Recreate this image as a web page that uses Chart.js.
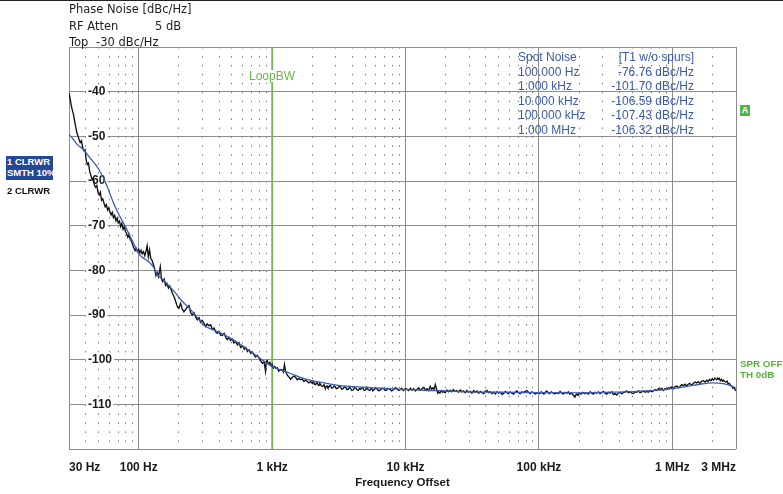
<!DOCTYPE html>
<html>
<head>
<meta charset="utf-8">
<script src="https://cdn.jsdelivr.net/npm/chart.js@4.4.1/dist/chart.umd.min.js"></script>
<style>
  body { margin: 0; background: #fff; }
  #wrap { position: relative; width: 783px; height: 494px; overflow: hidden; }
  #pn { position: absolute; left: 0; top: 0; }
  .t { position: absolute; white-space: nowrap; line-height: 14px; }
  .hdr { font: 11.5px "DejaVu Sans", sans-serif; color: #1e1e1e; }
  .spot { font: 12px "Liberation Sans", Arial, sans-serif; color: #3a5aae; }
  .side { font: bold 9.5px "Liberation Sans", Arial, sans-serif; line-height: 11px; }
  .green { color: #55b535; }
</style>
</head>
<body>
<div id="wrap">
  <canvas id="pn" width="783" height="494"></canvas>
  <div class="t" style="left:0;top:0;width:783px;height:1px;background:#222"></div>

  <div class="t hdr" style="left:69px;top:2px">Phase Noise [dBc/Hz]</div>
  <div class="t hdr" style="left:69px;top:19px">RF Atten</div>
  <div class="t hdr" style="left:155px;top:19px">5 dB</div>
  <div class="t hdr" style="left:69px;top:35px">Top</div>
  <div class="t hdr" style="left:96px;top:35px">-30 dBc/Hz</div>

  <div class="t side" style="left:6px;top:156px;width:47px;height:24px;background:#25479a;color:#fff;overflow:hidden;padding-left:1px;box-sizing:border-box">1 CLRWR<br>SMTH 10%</div>
  <div class="t side" style="left:7px;top:185px;color:#111">2 CLRWR</div>

  <div class="t" style="left:740px;top:105px;width:10px;height:11px;background:#4db848;color:#fff;font:bold 9px 'Liberation Sans',Arial,sans-serif;line-height:11px;text-align:center">A</div>
  <div class="t side green" style="left:740px;top:358px;font-size:9.8px">SPR OFF<br>TH 0dB</div>

  <div class="t" style="left:248px;top:70px;background:#fff;color:#62b946;font:12px 'Liberation Sans',Arial,sans-serif;line-height:12px;padding:0 1px">LoopBW</div>

  <div id="spot"></div>
</div>

<script>
// tick positions and labels of the frequency axis
const tickFreqs = [30, 100, 1e3, 1e4, 1e5, 1e6, 3e6];
const tickLabels = ['30 Hz', '100 Hz', '1 kHz', '10 kHz', '100 kHz', '1 MHz', '3 MHz'];
const minorFreqs = [40, 50, 60, 70, 80, 90, 200, 300, 400, 500, 600, 700, 800, 900,
  2e3, 3e3, 4e3, 5e3, 6e3, 7e3, 8e3, 9e3, 2e4, 3e4, 4e4, 5e4, 6e4, 7e4, 8e4, 9e4,
  2e5, 3e5, 4e5, 5e5, 6e5, 7e5, 8e5, 9e5, 2e6];

// spot noise table
const spotOffsets = ['100.000 Hz', '1.000 kHz', '10.000 kHz', '100.000 kHz', '1.000 MHz'];
const spotLevels = [-76.76, -101.70, -106.59, -107.43, -106.32];

// loop bandwidth marker
const loopBwFreq = 1000;

// trace 1 (raw, black): [offset Hz, dBc/Hz]
const trace1 = [
  [30, -40.3], [30.6, -41.6], [31.2, -43.1], [31.8, -44.2], [32.4, -45.1], [33, -46.5], [33.6, -47.7], [34.3, -49.1],
  [35, -49.9], [35.7, -50.7], [36.4, -51.4], [37.2, -51.0], [38, -52.5], [38.8, -53.2], [39.6, -53.0],
  [40.4, -55.4], [41.2, -56.3], [42, -56.0], [42.9, -57.9], [43.8, -58.8], [44.7, -59.7], [45.6, -59.4], [46.5, -60.9],
  [47.5, -61.4], [48.5, -61.0], [49.5, -62.6], [50.5, -63.1], [51.5, -62.5], [52.6, -64.3], [53.7, -64.0], [54.8, -64.9],
  [56, -65.8], [57.2, -65.3], [58.4, -66.5], [59.6, -66.0], [60.8, -66.9], [62, -67.6], [63.3, -67.0], [64.6, -68.2],
  [66, -67.7], [67.4, -68.9], [68.8, -68.3], [70.2, -69.4], [71.7, -69.0], [73.2, -70.2], [74.7, -69.5], [76.3, -70.8],
  [77.9, -70.2], [79.5, -71.3], [81.2, -71.8], [82.9, -72.6], [84.6, -72.0], [86.4, -73.1], [88.2, -73.5], [90, -74.3],
  [91.9, -75.0], [93.8, -75.6], [95.8, -75.1], [97.8, -75.8], [100, -75.3], [102, -76.1], [104, -75.5], [106, -76.3],
  [108.5, -75.8], [111, -76.7], [113, -75.9], [115.5, -74.5], [118, -77.0], [120.5, -75.4], [123, -77.3], [125.5, -77.7],
  [128.5, -78.6], [131.5, -79.6], [134.5, -81.2], [137.5, -80.5], [140.5, -81.4], [145, -79.2], [148, -81.9], [151, -82.5],
  [155, -82.0], [159, -83.4], [163, -83.0], [167, -84.0], [171, -83.5], [175, -84.4], [179, -85.2], [184, -85.9],
  [188, -86.7], [192, -87.6], [196, -88.3], [200, -88.5], [206, -87.4], [212, -88.7], [218, -89.3], [224, -88.8],
  [230, -88.3], [238, -87.9], [245, -89.5], [252, -90.0], [260, -89.5], [268, -90.6], [275, -91.1], [283, -90.6],
  [291, -91.6], [299, -91.2], [308, -91.8], [317, -92.6], [326, -92.0], [336, -92.4], [346, -92.2], [356, -93.2],
  [367, -92.9], [378, -93.8], [388, -94.1], [400, -93.7], [411, -94.5], [423, -94.6], [436, -94.1], [449, -95.0],
  [462, -95.5], [475, -95.0], [488, -95.7], [502, -95.4], [517, -96.3], [532, -95.9], [549, -96.7], [565, -96.2],
  [580, -97.3], [600, -96.9], [618, -97.7], [636, -97.3], [652, -98.2], [672, -97.8], [692, -98.6], [711, -98.3],
  [730, -98.9], [750, -99.4], [770, -99.0], [795, -99.5], [820, -100.2], [844, -100.8], [870, -100.5], [892, -102.6],
  [905, -100.4], [918, -100.2], [940, -101.0], [962, -100.6], [985, -101.4], [1000, -101.1], [1020, -101.9], [1045, -101.5],
  [1070, -102.0], [1092, -101.8], [1120, -102.6], [1150, -102.2], [1190, -102.3], [1215, -102.8], [1236, -101.1], [1258, -102.4],
  [1280, -103.1], [1310, -103.6], [1340, -103.9], [1372, -104.4], [1410, -104.0], [1450, -103.7], [1495, -103.9], [1540, -104.5],
  [1585, -104.2], [1632, -104.5], [1680, -104.3], [1730, -104.9], [1780, -104.6], [1832, -104.9], [1890, -105.2], [1950, -104.9],
  [2000, -105.3], [2026, -104.9], [2052, -105.2], [2086, -105.5], [2120, -105.6], [2155, -105.1], [2190, -105.3], [2220, -105.8],
  [2250, -105.7], [2275, -105.3], [2300, -105.5], [2350, -105.9], [2400, -106.0], [2450, -105.6], [2505, -106.5], [2540, -106.0],
  [2580, -105.9], [2620, -106.3], [2660, -106.2], [2700, -105.8], [2740, -105.8], [2795, -106.4], [2850, -106.3], [2905, -105.9],
  [2960, -106.0], [3030, -106.5], [3100, -106.4], [3175, -106.0], [3250, -106.1], [3325, -106.6], [3400, -106.5], [3480, -106.1],
  [3560, -106.2], [3640, -106.7], [3720, -106.6], [3790, -106.2], [3860, -106.4], [3955, -106.9], [4050, -106.8], [4150, -106.3],
  [4250, -106.4], [4335, -106.8], [4420, -106.9], [4500, -106.5], [4580, -106.7], [4690, -106.3], [4800, -106.4], [4900, -106.9],
  [5000, -106.8], [5070, -106.5], [5140, -106.3], [5270, -106.8], [5400, -106.9], [5500, -106.5], [5600, -106.6], [5685, -107.0],
  [5770, -106.8], [5935, -106.4], [6100, -106.5], [6250, -106.9], [6400, -106.9], [6630, -106.4], [6860, -106.5], [7030, -106.9],
  [7200, -106.8], [7400, -106.4], [7600, -106.6], [7870, -107.0], [8140, -106.7], [8370, -106.3], [8600, -106.4], [8870, -106.9],
  [9140, -106.7], [9370, -106.4], [9600, -106.9], [9930, -106.5],
  [10260, -106.6], [10550, -106.9], [10860, -106.4], [11180, -106.8], [11500, -106.5], [11850, -107.0], [12200, -106.6], [12550, -106.3],
  [12900, -106.8], [13300, -106.5], [13700, -106.2], [14100, -106.8], [14500, -106.5], [14900, -106.9], [15300, -106.0], [15650, -106.6],
  [16000, -106.3], [16350, -106.7], [16700, -105.6], [17200, -106.9], [17450, -107.5], [17700, -107.2], [18100, -107.5], [18500, -106.9],
  [18900, -107.3], [19300, -107.1], [19850, -107.4], [20400, -106.8], [21000, -107.2], [21600, -106.9], [22200, -107.2], [22800, -106.7],
  [23500, -107.1], [24200, -106.9], [24950, -107.3], [25700, -106.8], [26450, -107.2], [27200, -107.0], [28000, -107.4], [28800, -106.9],
  [29650, -107.3], [30500, -107.1], [31450, -107.5], [32400, -106.9], [33350, -107.3], [34300, -107.0], [35350, -107.5], [36400, -107.1],
  [37450, -107.4], [38500, -107.6], [39600, -107.1], [40700, -106.9], [41950, -107.4], [43200, -107.2], [44450, -107.6], [45700, -107.3],
  [47100, -107.7], [48500, -107.2], [49900, -107.5], [51300, -107.3], [52900, -107.8], [54500, -107.5], [56000, -107.1], [57500, -107.4],
  [59100, -107.6], [60800, -107.2], [62600, -107.5], [64500, -107.7], [66400, -107.3], [68300, -107.0], [70300, -107.4], [72400, -107.6],
  [74500, -107.2], [76700, -107.4], [78900, -107.1], [81100, -106.9], [83500, -107.3], [86000, -107.6], [88600, -107.2], [91200, -107.4],
  [93800, -107.7], [96500, -107.5], [99000, -107.3], [101500, -107.6], [104000, -107.2], [106500, -107.5], [109000, -107.7], [111700, -107.3],
  [114500, -107.0], [117200, -107.4], [120000, -107.6], [123500, -107.2], [127000, -107.4], [131500, -107.7], [136000, -107.4], [140000, -107.6],
  [144000, -107.1], [148000, -107.4], [152000, -107.7], [157000, -107.3], [162000, -107.5], [166000, -107.2], [170000, -107.7], [175000, -107.5],
  [180000, -107.9], [183000, -108.1], [186000, -108.4], [189000, -107.9], [192000, -107.7], [196000, -108.0], [200000, -107.5], [206500, -107.7],
  [213000, -107.3], [220500, -107.6], [228000, -107.4], [235000, -107.7], [242000, -107.2], [249000, -107.5], [256000, -107.7], [263500, -107.3],
  [271000, -107.5], [279000, -107.2], [287000, -107.6], [295500, -107.4], [304000, -107.1], [313000, -107.5], [322000, -107.7], [331500, -107.3],
  [341000, -107.5], [351500, -107.2], [362000, -107.8], [372500, -107.6], [383000, -107.9], [394000, -107.5], [405000, -107.3], [417500, -107.6],
  [430000, -107.4], [442500, -107.2], [455000, -107.0], [469000, -107.4], [483000, -107.2], [497000, -107.5], [511000, -107.6], [526000, -107.2],
  [541000, -107.3], [557000, -107.0], [573000, -107.4], [590000, -107.2], [607000, -107.0], [625000, -107.3], [643000, -107.1], [661500, -107.3],
  [680000, -106.9], [701000, -107.2], [722000, -107.0], [743000, -106.7], [764000, -106.9], [787000, -106.5], [810000, -106.7], [834000, -106.4],
  [858000, -106.9], [882000, -106.5], [906000, -106.7], [933000, -106.3], [960000, -106.4], [990000, -106.1], [1020000, -106.5], [1050000, -106.0],
  [1080000, -105.9], [1110000, -106.3], [1140000, -106.0], [1175000, -105.6], [1210000, -105.8], [1245000, -105.5], [1280000, -105.9], [1315000, -105.5],
  [1350000, -105.3], [1390000, -105.7], [1430000, -105.4], [1475000, -105.0], [1520000, -105.2], [1565000, -104.9], [1610000, -105.3], [1660000, -104.8],
  [1710000, -104.7], [1760000, -105.0], [1810000, -104.6], [1855000, -104.9], [1900000, -104.4], [1945000, -104.7], [1990000, -104.3], [2035000, -104.6],
  [2080000, -104.1], [2115000, -104.3], [2150000, -104.5], [2185000, -104.1], [2220000, -104.4], [2255000, -104.2], [2290000, -104.7], [2340000, -104.4],
  [2380000, -104.8], [2420000, -104.6], [2470000, -104.9], [2520000, -105.0], [2570000, -104.8], [2620000, -105.4], [2670000, -105.3], [2720000, -105.7],
  [2780000, -105.9], [2840000, -106.4], [2890000, -106.2], [2940000, -106.6], [2970000, -106.8], [3000000, -107.0]
];

// trace 2 (smoothed, blue)
const trace2Freq = [30, 32, 34.5, 38.6, 43, 48.5, 52, 56, 60, 64.7, 71, 79, 85, 91.3, 97, 102, 110, 120,
  129, 138, 150, 165, 184, 210, 245, 275, 308, 360, 435, 500, 580, 700, 820, 1000, 1180, 1373, 1650,
  2052, 2440, 3250, 4330, 5770, 7500, 10260, 15000, 20000, 30000, 50000, 100000, 200000, 400000,
  700000, 1000000, 1300000, 1600000, 2000000, 2400000, 2700000, 3000000];
const trace2Level = [-49.6, -50.5, -51.8, -53.0, -54.8, -56.7, -58.2, -60.1, -62.4, -64.9, -67.5, -70.1, -72.0, -73.9, -75.6, -76.6, -77.4, -78.2,
  -79.3, -81.0, -81.9, -83.2, -84.7, -86.8, -88.8, -90.6, -92.3, -93.3, -94.4, -95.4, -96.6, -98.3, -99.8, -101.5, -102.4, -103.1, -104.0,
  -104.8, -105.2, -105.8, -106.1, -106.3, -106.5, -106.7, -106.9, -107.0, -107.2, -107.3, -107.4, -107.45, -107.25,
  -106.95, -106.5, -106.0, -105.5, -105.2, -105.35, -105.75, -106.4];

const spotBox = document.getElementById('spot');
const spotRowTop = 50;
const spotRowGap = 14.5;
function addSpot(text, row, side) {
  const d = document.createElement('div');
  d.className = 't spot';
  d.textContent = text;
  d.style.top = (spotRowTop + row * spotRowGap) + 'px';
  if (side === 'l') d.style.left = '518px'; else d.style.right = '89px';
  spotBox.appendChild(d);
}
addSpot('Spot Noise', 0, 'l');
addSpot('[T1 w/o spurs]', 0, 'r');
spotOffsets.forEach((s, i) => {
  addSpot(s, i + 1, 'l');
  addSpot(spotLevels[i].toFixed(2) + ' dBc/Hz', i + 1, 'r');
});

const gridGrey = '#8c8c8c';
const labelFont = { family: '"Liberation Sans", Arial, sans-serif', size: 12, weight: 'bold' };

new Chart(document.getElementById('pn'), {
  type: 'line',
  data: {
    datasets: [
      {
        label: 'Trace 2',
        data: trace2Freq.map((f, i) => ({ x: f, y: trace2Level[i] })),
        borderColor: '#3b5cb8',
        borderWidth: 1.3,
        pointRadius: 0,
        cubicInterpolationMode: 'monotone'
      },
      {
        label: 'Trace 1',
        data: trace1.map(p => ({ x: p[0], y: p[1] })),
        borderColor: '#111111',
        borderWidth: 1.35,
        pointRadius: 0,
        tension: 0
      },
      {
        label: 'LoopBW',
        data: [{ x: loopBwFreq, y: -30 }, { x: loopBwFreq, y: -120 }],
        borderColor: '#6cbf4c',
        borderWidth: 1,
        pointRadius: 0
      }
    ]
  },
  options: {
    responsive: false,
    animation: false,
    layout: { padding: { left: 69, right: 47, top: 47, bottom: 0 } },
    plugins: {
      legend: { display: false },
      tooltip: { enabled: false }
    },
    scales: {
      x: {
        type: 'logarithmic',
        position: 'bottom',
        min: 30,
        max: 3e6,
        afterBuildTicks: s => { s.ticks = tickFreqs.map(v => ({ value: v })); },
        afterFit: s => { s.height = 45; },
        grid: { color: gridGrey, lineWidth: 1, drawTicks: false },
        border: { display: false },
        ticks: {
          autoSkip: false,
          maxRotation: 0,
          align: 'inner',
          padding: 11,
          color: '#1a1a1a',
          font: labelFont,
          callback: (v, i) => tickLabels[i]
        },
        title: {
          display: true,
          text: 'Frequency Offset',
          color: '#1a1a1a',
          font: { family: '"Liberation Sans", Arial, sans-serif', size: 11.5, weight: 'bold' },
          padding: { top: 0, bottom: 4 }
        }
      },
      x2: {
        type: 'logarithmic',
        position: 'bottom',
        min: 30,
        max: 3e6,
        afterBuildTicks: s => { s.ticks = minorFreqs.map(v => ({ value: v })); },
        afterFit: s => { s.height = 0; },
        grid: { color: '#7a7a7a', lineWidth: 1, drawTicks: false, borderDash: [1.5, 7.44] },
        border: { display: false, dash: [1.5, 7.44] },
        ticks: { display: false }
      },
      y: {
        min: -120,
        max: -30,
        afterFit: s => { s.width = 0; },
        grid: { color: gridGrey, lineWidth: 1, drawTicks: false },
        border: { display: false },
        ticks: {
          stepSize: 10,
          mirror: true,
          padding: 19,
          color: '#1a1a1a',
          font: labelFont,
          showLabelBackdrop: true,
          backdropPadding: { left: 2, right: 2, top: 0, bottom: 0 },
          backdropColor: c => (c.tick && (c.tick.value === -30 || c.tick.value === -120)) ? 'rgba(0,0,0,0)' : '#ffffff',
          callback: v => (v === -30 || v === -120) ? '' : String(v)
        }
      }
    }
  }
});
</script>
</body>
</html>
